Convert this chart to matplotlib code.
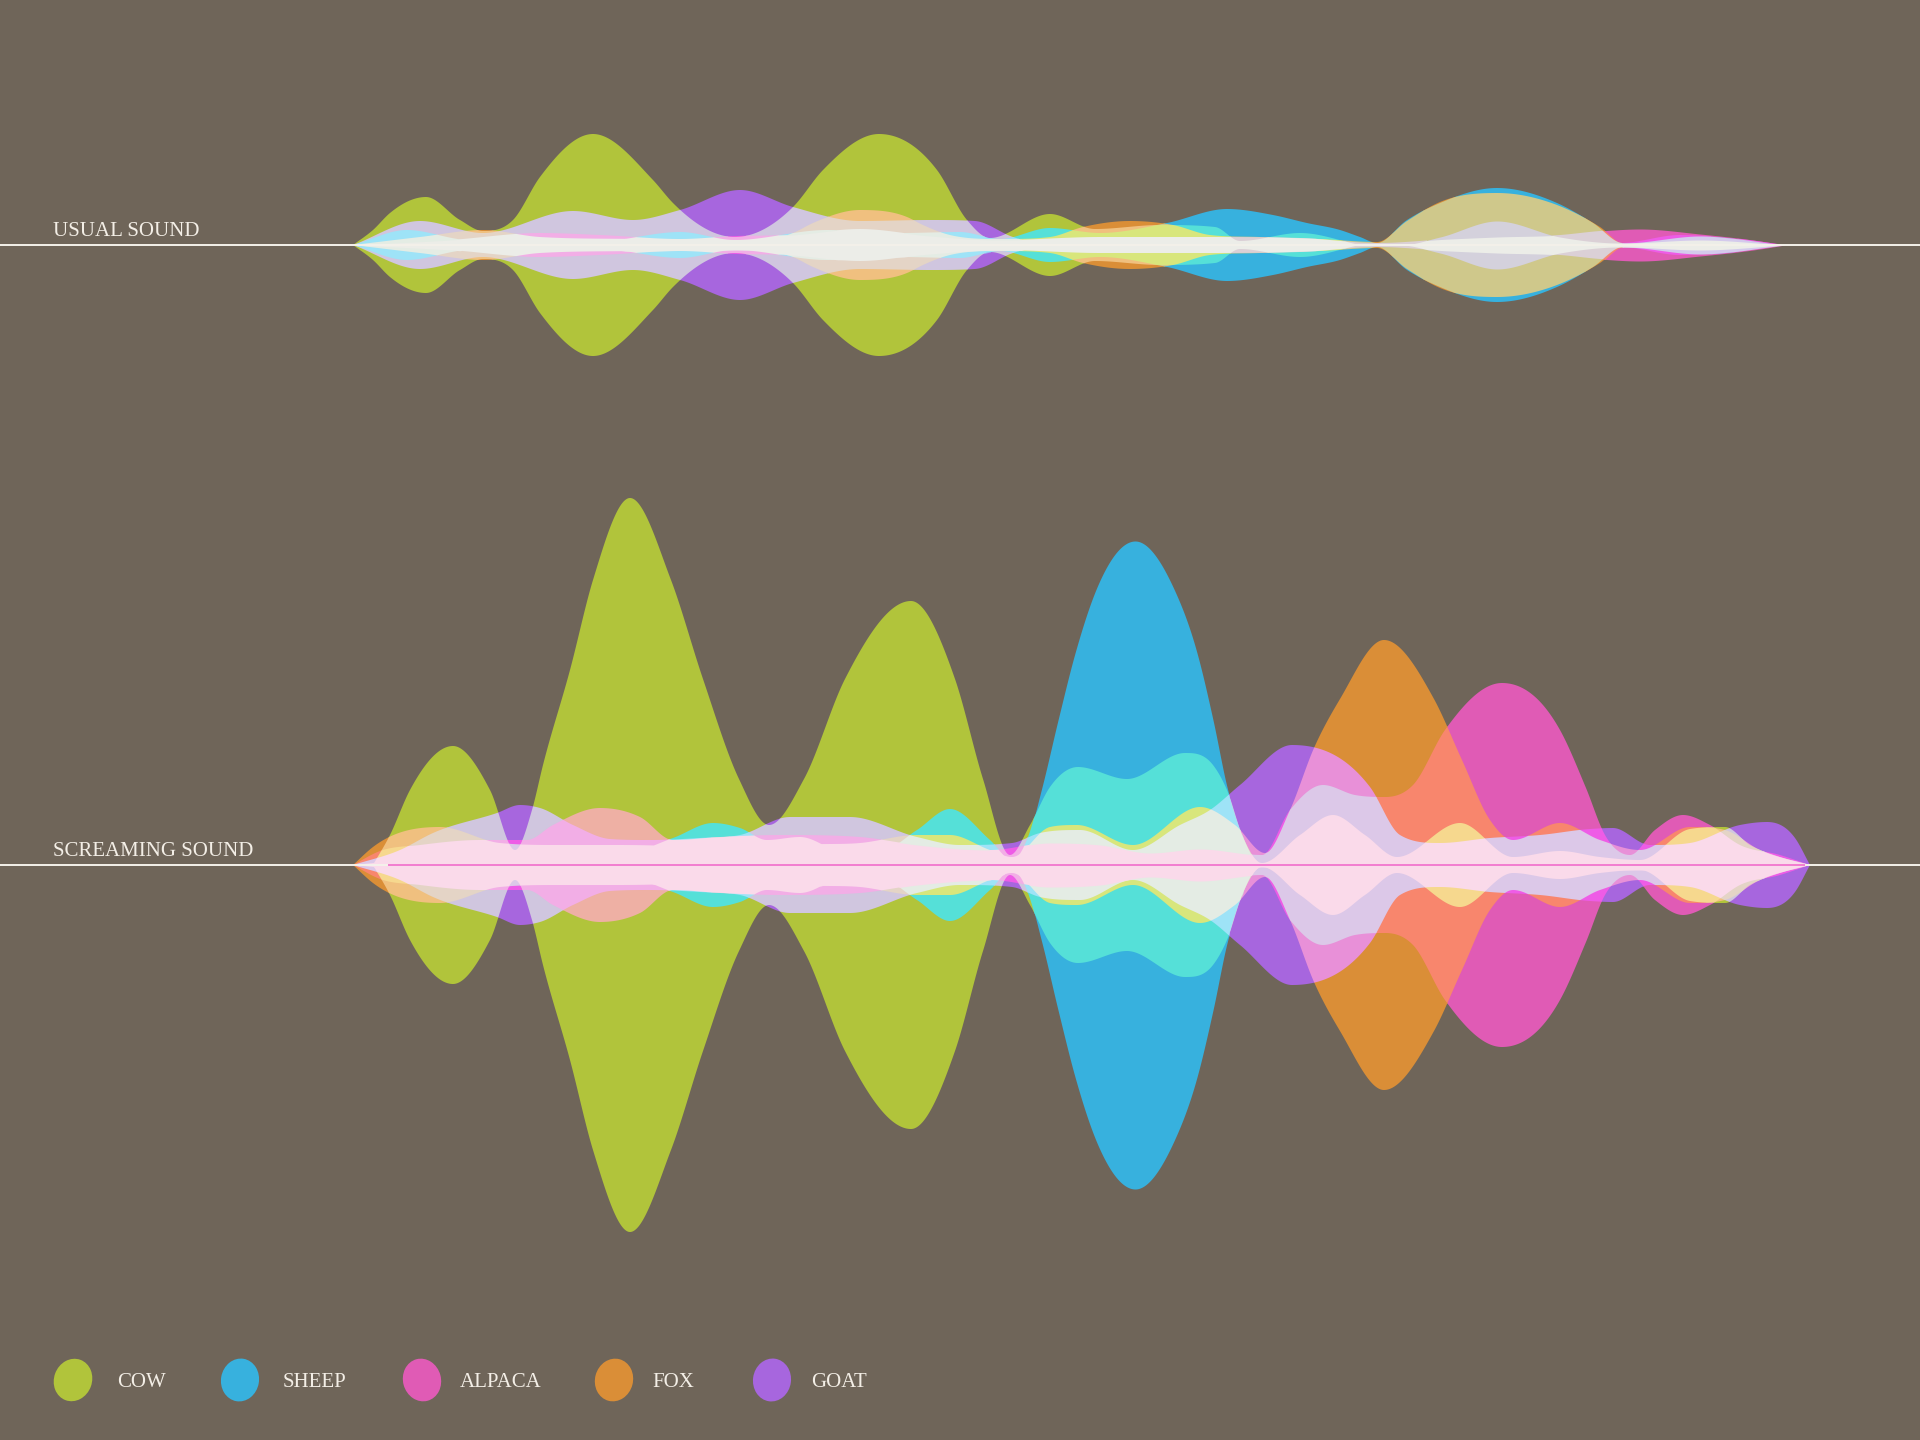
import numpy as np
import matplotlib
matplotlib.use("Agg")
import matplotlib.pyplot as plt
from matplotlib.patches import Ellipse
from matplotlib.colors import to_rgb

# ---------------- data ----------------
animals = ["COW", "SHEEP", "ALPACA", "FOX", "GOAT"]
chart_titles = ["USUAL SOUND", "SCREAMING SOUND"]

# USUAL SOUND: envelope half-heights (px) at positions along the time axis
usual_cow_x = [353, 373, 390, 426, 460, 483, 513, 540, 593, 653, 673, 735, 793, 823, 879, 937, 967, 990, 1050,
               1095, 1160, 1215, 1240, 1300, 1360]
usual_cow_amp = [0, 15, 32, 48, 25, 14, 25, 68, 111, 65, 42, 8, 38, 75, 111, 75, 25, 7, 31,
                 16, 20, 18, 4, 12, 0]
usual_sheep_x = [353, 407, 470, 540, 600, 680, 735, 827, 900, 960, 1000, 1050, 1100, 1167, 1227, 1273, 1307, 1340,
                 1360, 1377, 1407, 1440, 1497, 1557, 1593, 1623, 1700, 1785]
usual_sheep_amp = [0, 15, 5, 6, 4, 13, 5, 15, 12, 13, 6, 17, 12, 22, 36, 30, 22, 15,
                   8, 2, 25, 42, 57, 42, 22, 2, 9, 0]
usual_alpaca_x = [353, 450, 540, 600, 680, 737, 790, 860, 930, 1000, 1100, 1200, 1300, 1377, 1450, 1497, 1560,
                  1600, 1640, 1700, 1760, 1785]
usual_alpaca_amp = [0, 5, 12, 10, 6, 9, 10, 16, 9, 5, 8, 8, 7, 2, 6, 8, 10,
                    14, 16, 11, 4, 0]
usual_fox_x = [353, 420, 483, 540, 640, 760, 793, 813, 860, 907, 923, 950, 1000, 1050, 1083, 1130, 1173, 1210,
               1260, 1320, 1377, 1407, 1440, 1497, 1557, 1600, 1623, 1700, 1785]
usual_fox_amp = [0, 8, 15, 8, 6, 5, 12, 22, 35, 28, 20, 10, 6, 8, 18, 24, 20, 10,
                 8, 6, 3, 24, 43, 52, 40, 18, 2, 5, 0]
usual_goat_x = [353, 420, 483, 573, 633, 680, 740, 793, 860, 930, 975, 1013, 1050, 1400, 1440, 1497, 1560, 1620,
                1680, 1740, 1785]
usual_goat_amp = [0, 24, 12, 34, 25, 35, 55, 38, 24, 25, 24, 8, 0, 0, 8, 24, 8, 2,
                  10, 6, 0]

# SCREAMING SOUND
scream_cow_x = [373, 390, 410, 453, 490, 515, 532, 543, 570, 593, 630, 671, 703, 739, 769, 804, 845, 911, 955, 983,
                1010, 1030, 1050, 1078, 1127, 1185, 1213, 1227, 1243, 1262, 1300, 1333, 1365, 1397, 1460, 1513,
                1560, 1600, 1640, 1690, 1725, 1750, 1780, 1810]
scream_cow_amp = [0, 30, 75, 119, 75, 15, 55, 100, 195, 285, 367, 285, 186, 86, 40, 86, 186, 264, 186, 86,
                  10, 40, 78, 98, 86, 112, 100, 75, 28, 2, 30, 50, 30, 8, 42, 8,
                  14, 8, 5, 36, 38, 20, 8, 0]
scream_sheep_x = [353, 420, 520, 620, 673, 713, 740, 767, 800, 850, 880, 917, 950, 990, 1012, 1028, 1042, 1058,
                  1075, 1097, 1135, 1173, 1197, 1213, 1227, 1243, 1260, 1320, 1450, 1600, 1700, 1810]
scream_sheep_amp = [0, 6, 8, 10, 27, 42, 37, 25, 28, 10, 12, 35, 56, 25, 5, 28, 78, 145,
                    212, 278, 324, 278, 212, 145, 78, 28, 2, 5, 5, 5, 5, 0]
scream_alpaca_x = [353, 380, 420, 480, 527, 553, 600, 640, 673, 720, 780, 860, 917, 990, 1050, 1100, 1150, 1200,
                   1262, 1290, 1323, 1355, 1385, 1413, 1445, 1502, 1560, 1586, 1605, 1630, 1655, 1683, 1710,
                   1740, 1780, 1810]
scream_alpaca_amp = [0, 14, 20, 25, 25, 40, 57, 48, 25, 28, 30, 28, 20, 15, 22, 20, 12, 16,
                     10, 55, 80, 70, 68, 80, 135, 182, 135, 77, 30, 10, 35, 50, 40,
                     20, 10, 0]
scream_fox_x = [353, 373, 440, 500, 560, 620, 700, 760, 800, 860, 917, 950, 990, 1012, 1050, 1077, 1133, 1200,
                1235, 1265, 1290, 1314, 1340, 1384, 1434, 1462, 1490, 1513, 1560, 1600, 1640, 1690, 1725,
                1760, 1810]
scream_fox_amp = [0, 18, 38, 22, 20, 20, 18, 15, 20, 22, 30, 30, 15, 8, 38, 40, 20, 58,
                  40, 12, 55, 117, 166, 225, 166, 105, 45, 25, 42, 25, 15, 38, 35,
                  15, 0]
scream_goat_x = [353, 400, 433, 497, 520, 540, 573, 610, 650, 700, 740, 790, 850, 917, 960, 1012, 1040, 1080,
                 1133, 1180, 1210, 1240, 1292, 1370, 1400, 1440, 1490, 1540, 1590, 1613, 1650, 1690, 1740,
                 1767, 1795, 1810]
scream_goat_amp = [0, 15, 32, 52, 60, 57, 40, 26, 25, 27, 30, 48, 48, 28, 20, 22, 32, 35,
                   15, 40, 55, 80, 120, 78, 30, 22, 27, 30, 36, 37, 20, 22, 40,
                   43, 27, 0]

# ---------------- style ----------------
BG = "#6F6559"
TEXT = "#F3EEE6"
animal_colors = {"COW": "#B1C43B", "SHEEP": "#37B1DE", "ALPACA": "#E05BB5",
                 "FOX": "#DA8E37", "GOAT": "#A766DE"}
blend_colors = {
    frozenset({"COW", "GOAT"}): "#D0C6DF",
    frozenset({"COW", "SHEEP"}): "#55E0D8",
    frozenset({"COW", "FOX"}): "#F0C07F",
    frozenset({"COW", "ALPACA"}): "#EEB0A4",
    frozenset({"GOAT", "SHEEP"}): "#98B4F2",
    frozenset({"GOAT", "FOX"}): "#E890D8",
    frozenset({"GOAT", "ALPACA"}): "#EE5CE6",
    frozenset({"SHEEP", "FOX"}): "#CFC88B",
    frozenset({"SHEEP", "ALPACA"}): "#B08CEE",
    frozenset({"FOX", "ALPACA"}): "#F8866D",
    frozenset({"COW", "GOAT", "SHEEP"}): "#9EE3F7",
    frozenset({"COW", "SHEEP", "FOX"}): "#D8E67C",
    frozenset({"COW", "FOX", "ALPACA"}): "#F6D88E",
    frozenset({"COW", "GOAT", "ALPACA"}): "#F2AEE6",
    frozenset({"GOAT", "FOX", "ALPACA"}): "#DCC8E8",
}


def mix_white(rgb, f):
    rgb = np.asarray(rgb)
    return tuple(rgb * (1 - f) + f)


def set_color(members, core):
    key = frozenset(members)
    if len(members) == 1:
        return animal_colors[members[0]]
    if key in blend_colors:
        return blend_colors[key]
    mean = np.mean([to_rgb(animal_colors[a]) for a in members], axis=0)
    if len(members) == 2:
        return mix_white(mean, 0.35)
    if len(members) == 3:
        return mix_white(mean, 0.6)
    if len(members) == 4 and "ALPACA" not in key:
        return "#E4ECE4"
    return core


def smooth_envelope(xk, yk, x):
    """Smooth cubic Hermite curve through the read envelope points
    (three-point tangents, flat at extrema, limited to avoid overshoot)."""
    xk = np.asarray(xk, float)
    yk = np.asarray(yk, float)
    h = np.diff(xk)
    d = np.diff(yk) / h
    n = len(xk)
    m = np.zeros(n)
    for i in range(1, n - 1):
        if d[i - 1] * d[i] > 0:
            c = (d[i - 1] * h[i] + d[i] * h[i - 1]) / (h[i - 1] + h[i])
            lim = 3 * min(abs(d[i - 1]), abs(d[i]))
            m[i] = np.sign(c) * min(abs(c), lim)
    m[0] = d[0]
    m[-1] = d[-1]
    y = np.zeros_like(x)
    inside = (x >= xk[0]) & (x <= xk[-1])
    xi = x[inside]
    idx = np.clip(np.searchsorted(xk, xi) - 1, 0, n - 2)
    t = (xi - xk[idx]) / h[idx]
    h00 = 2 * t**3 - 3 * t**2 + 1
    h10 = t**3 - 2 * t**2 + t
    h01 = -2 * t**3 + 3 * t**2
    h11 = t**3 - t**2
    y[inside] = (h00 * yk[idx] + h10 * h[idx] * m[idx]
                 + h01 * yk[idx + 1] + h11 * h[idx] * m[idx + 1])
    return np.clip(y, 0, None)


def draw_wave(ax, base, profiles, core):
    xs = np.arange(345, 1825, 0.5)
    A = np.vstack([smooth_envelope(px, pa, xs) for px, pa in profiles])
    order = np.argsort(-A, axis=0, kind="stable")
    srt = np.take_along_axis(A, order, axis=0)
    cum = np.cumsum(1 << order, axis=0)
    for k in range(len(animals)):
        hi = srt[k]
        codes = cum[k]
        for code in np.unique(codes):
            mask = codes == code
            m2 = mask.copy()
            m2[1:] |= mask[:-1]
            m2[:-1] |= mask[1:]
            if not np.any(hi[m2] > 0.05):
                continue
            members = [animals[i] for i in range(len(animals)) if (code >> i) & 1]
            ax.fill_between(xs, base - hi, base + hi, where=m2,
                            color=set_color(members, core), lw=0,
                            antialiased=True, zorder=2 + k)


fig = plt.figure(figsize=(19.2, 14.4), dpi=100, facecolor=BG)
ax = fig.add_axes([0, 0, 1, 1])
ax.set_xlim(0, 1920)
ax.set_ylim(1440, 0)
ax.set_facecolor(BG)
ax.axis("off")

usual_profiles = [(usual_cow_x, usual_cow_amp), (usual_sheep_x, usual_sheep_amp),
                  (usual_alpaca_x, usual_alpaca_amp), (usual_fox_x, usual_fox_amp),
                  (usual_goat_x, usual_goat_amp)]
scream_profiles = [(scream_cow_x, scream_cow_amp), (scream_sheep_x, scream_sheep_amp),
                   (scream_alpaca_x, scream_alpaca_amp), (scream_fox_x, scream_fox_amp),
                   (scream_goat_x, scream_goat_amp)]

base_usual, base_scream = 245, 865
draw_wave(ax, base_usual, usual_profiles, "#ECEDE8")
draw_wave(ax, base_scream, scream_profiles, "#FADAEA")

# baselines
ax.plot([0, 1920], [base_usual, base_usual], color="#F4F1EA", lw=1.4, zorder=10,
        solid_capstyle="butt")
ax.plot([0, 1920], [base_scream, base_scream], color="#F4F1EA", lw=1.4, zorder=10,
        solid_capstyle="butt")
ax.plot([388, 1805], [base_scream, base_scream], color="#F27BD0", lw=1.4, zorder=11,
        solid_capstyle="butt")

# chart titles
title_font = dict(family=["Liberation Serif", "DejaVu Serif"], color=TEXT, fontsize=15)
ax.text(53, 236, chart_titles[0], va="baseline", ha="left", **title_font)
ax.text(53, 856, chart_titles[1], va="baseline", ha="left", **title_font)

# legend
legend_blob_x = [73, 240, 422, 614, 772]
legend_label_x = [117, 283, 460, 652, 811]
legend_angles = [20, 10, -15, 15, 8]
for i, name in enumerate(animals):
    ax.add_patch(Ellipse((legend_blob_x[i], 1380), 38, 43, angle=legend_angles[i],
                         color=animal_colors[name], lw=0, zorder=5))
    ax.text(legend_label_x[i], 1387, name, va="baseline", ha="left",
            family=["Liberation Serif", "DejaVu Serif"], color=TEXT, fontsize=15)

fig.savefig("out.png", dpi=100, facecolor=BG)
